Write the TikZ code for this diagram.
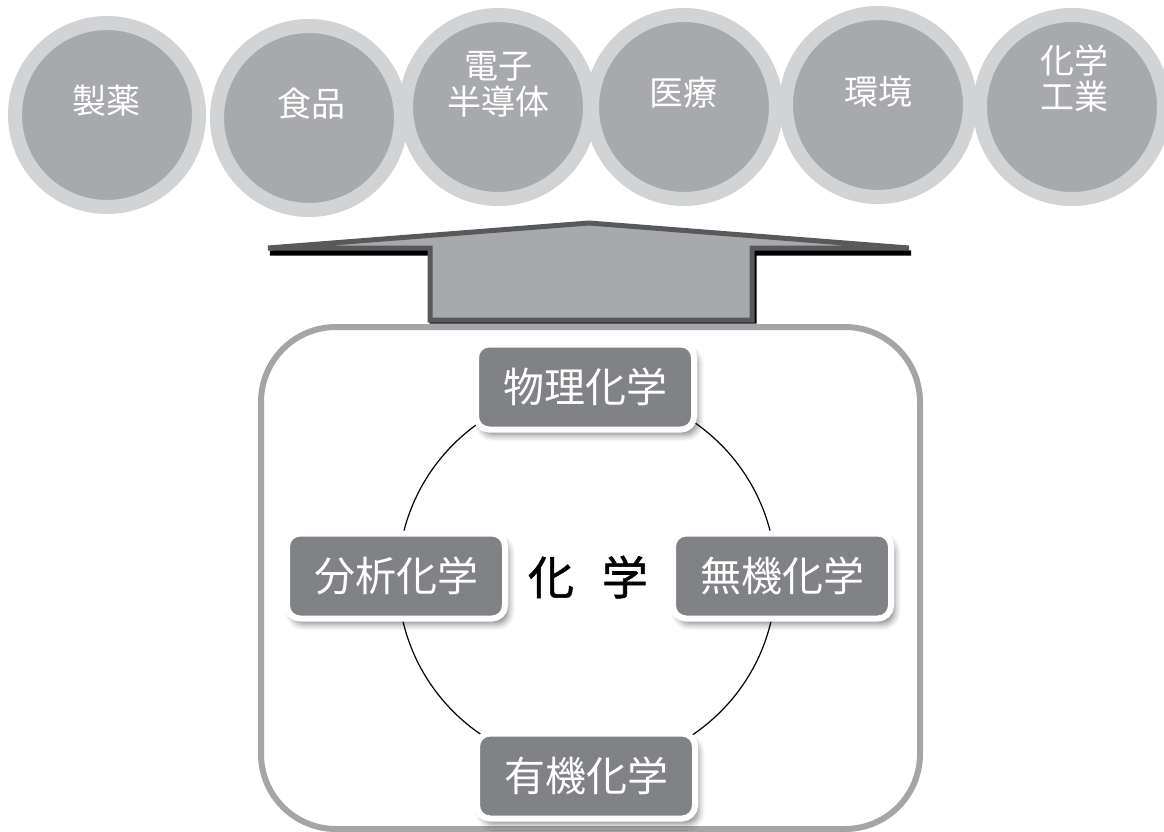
\documentclass[tikz,border=0pt]{standalone}
\usepackage{fontspec}
\newfontfamily\jpfont{Noto Sans CJK JP}
\newfontfamily\jpheavy[FakeBold=1.2]{Noto Sans CJK JP}
\usepackage{tikz}
\usetikzlibrary{shapes.geometric}
\usetikzlibrary{shadows.blur}
\definecolor{ringgray}{HTML}{D1D3D4}
\definecolor{fieldgray}{HTML}{A7A9AC}
\definecolor{boxgray}{HTML}{808285}
\definecolor{edgegray}{HTML}{58595B}
\definecolor{framegray}{HTML}{A3A5A8}

\begin{document}
\begin{tikzpicture}[x=1pt,y=-1pt,
  field/.style={circle, fill=fieldgray, draw=ringgray, line width=14pt, minimum size=184pt, inner sep=0pt},
  fieldtext/.style={text=white, align=center, inner sep=0pt, font=\jpfont\fontsize{34}{36}\selectfont},
  subject/.style={rectangle, rounded corners=13pt, fill=boxgray, draw=white, line width=6pt,
    minimum width=218pt, minimum height=85pt, text=white, font=\jpfont\fontsize{41}{44}\selectfont,
    blur shadow={shadow xshift=4pt, shadow yshift=-6pt, shadow blur radius=6pt, shadow opacity=45}},
]
\useasboundingbox (0,0) rectangle (1164,832);
% Application fields
\node[field] (seiyaku) at (107,115) {};
\node[field] (shokuhin) at (309,118) {};
\node[field] (denshi) at (498,107) {};
\node[field] (iryou) at (684,107) {};
\node[field] (kankyou) at (878,105) {};
\node[field] (kougyou) at (1072,107) {};
\node[fieldtext] (seiyakut) at (106,101) {製薬};
\node[fieldtext] (shokuhint) at (311,104) {食品};
\node[fieldtext] (denshit) at (498,84) {電子\\半導体};
\node[fieldtext] (iryout) at (683,93) {医療};
\node[fieldtext] (kankyout) at (878,92) {環境};
\node[fieldtext] (kougyout) at (1074,78) {化学\\工業};
% Upward arrow
\draw[black, fill=black, line width=5pt, xshift=2pt, yshift=-5pt] (268,248) -- (589,223) -- (909,248) -- (752,248) -- (752,316) -- (430,316) -- (430,248) -- cycle;
% Frame
\draw[framegray, line width=6pt, rounded corners=75pt] (261,327) rectangle (920,829);
\draw[edgegray, fill=fieldgray, line width=5pt] (268,248) -- (589,223) -- (909,248) -- (752,248) -- (752,320) -- (430,320) -- (430,248) -- cycle;
% Branches of chemistry
\node[circle, draw=black, line width=1.2pt, minimum size=378pt, inner sep=0pt] (ring) at (587,578) {};
\node[font=\jpheavy\fontsize{46}{50}\selectfont] (kagaku) at (588,577) {化\hspace{28pt}学};
\node[subject] (butsuri) at (585,387) {物理化学};
\node[subject] (bunseki) at (396,576) {分析化学};
\node[subject] (muki) at (782,576) {無機化学};
\node[subject] (yuuki) at (586,776) {有機化学};
\end{tikzpicture}
\end{document}
